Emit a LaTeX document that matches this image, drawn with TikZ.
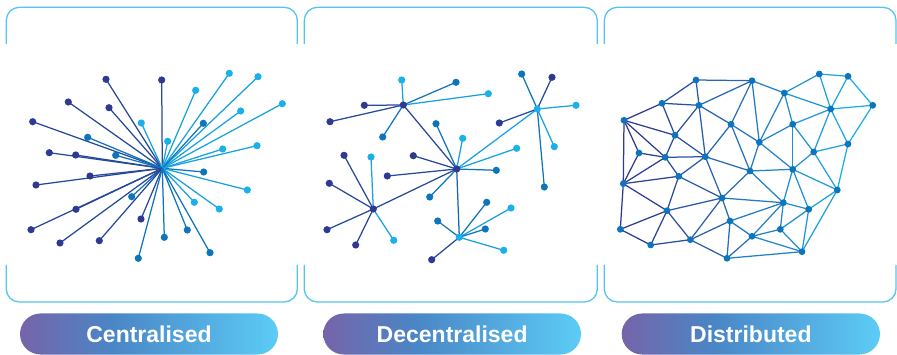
\documentclass[tikz,border=0pt]{standalone}
\usepackage{fontspec}
\setmainfont{Liberation Sans}
\definecolor{nv}{RGB}{46,58,146}
\definecolor{md}{RGB}{14,116,188}
\definecolor{lt}{RGB}{26,176,234}
\definecolor{fr}{RGB}{84,197,240}
\definecolor{pl}{RGB}{118,100,170}
\definecolor{pm}{RGB}{74,134,198}
\definecolor{pc}{RGB}{92,204,246}
\pgfdeclarehorizontalshading{pillshade}{100bp}{color(0bp)=(pl); color(25bp)=(pl); color(43bp)=(pm); color(75bp)=(pc); color(100bp)=(pc)}
\pgfdeclarelayer{bg}
\pgfsetlayers{bg,main}
\newdimen\mxA
\newdimen\mxB
\tikzset{
  leaf/.style={circle,fill=#1,inner sep=0pt,minimum size=7.2pt},
  knot/.style={circle,fill=md,inner sep=0pt,minimum size=6.8pt},
  link/.style={draw=#1,line width=1.25pt},
  frameline/.style={draw=fr,line width=1.3pt,rounded corners=13pt},
  pillbox/.style={shading=pillshade,rounded corners=20.5pt},
  pilltext/.style={text=white,font=\fontsize{23}{27}\selectfont\bfseries,inner sep=0pt}
}
\begin{document}
\begin{tikzpicture}[x=1pt,y=-1pt]
\useasboundingbox (0,0) rectangle (897,355);
% frames
\foreach \xa/\xb [count=\k] in {6.3/297.3, 304.3/597.3, 604.3/896}{
  \draw[frameline] (\xa,44) -- (\xa,7.3) -- (\xb,7.3) -- (\xb,44);
  \draw[frameline] (\xa,265) -- (\xa,302) -- (\xb,302) -- (\xb,265);
}
% pills
\foreach \xa/\xb/\t [count=\k] in {20/278/Centralised, 323.3/581/Decentralised, 621.7/880/Distributed}{
  \shade[pillbox] (\xa,313.5) rectangle (\xb,354.5);
  \node[pilltext] (lab\k) at ({(\xa+\xb)/2},334.2) {\t};
}
% ---- Centralised
\coordinate (c1) at (162.3,168.3);
\foreach \x/\y/\c [count=\i] in {106/79.3/nv, 161.7/80/nv, 229.3/73.3/lt, 258/76.7/lt, 195.7/90.3/lt,
  68.3/102/nv, 109/107.7/nv, 240.7/111/lt, 282.3/103.7/lt, 32.7/121.7/nv, 141.3/123/lt, 203.3/123.3/md,
  87.7/137.3/md, 167.7/141.3/lt, 49.3/152.7/nv, 75.7/155/nv, 115.7/155.3/md, 222.7/149/lt, 257/145.7/lt,
  203.7/172/md, 36/185/nv, 90/176/nv, 247.3/190/lt, 131.7/196.7/md, 194.3/202.3/lt, 219.3/209/lt,
  76/209.3/nv, 141/219/nv, 31/229.7/nv, 187.3/230/md, 60/243/nv, 99.3/240.7/nv, 164.3/237.3/md,
  138.3/258.3/md, 210/252.7/md}{
  \node[leaf=\c] (p\i) at (\x,\y) {};
  \begin{pgfonlayer}{bg}\draw[link=\c!75!md] (p\i.center) -- (c1);\end{pgfonlayer}
}
% ---- Decentralised
\node[leaf=nv] (h1) at (403.3,105) {};
\node[leaf=nv] (h2) at (456.7,169) {};
\node[leaf=lt] (h3) at (537.3,109) {};
\node[leaf=nv] (h4) at (373.3,209) {};
\node[leaf=lt] (h5) at (459.3,237.3) {};
\begin{pgfonlayer}{bg}
\draw[link=nv!75!md] (h1.center) -- (h2.center);
\draw[link=lt!80!md] (h2.center) -- (h3.center);
\draw[link=nv!75!md] (h2.center) -- (h4.center);
\draw[link=md!70!nv] (h2.center) -- (h5.center);
\end{pgfonlayer}
\foreach \h/\x/\y/\c [count=\i] in {
  h1/401.7/80/lt, h1/456/82.3/md, h1/488.3/93.7/lt, h1/364.3/105.3/nv, h1/330/121.7/nv, h1/382.7/137/md,
  h3/521.7/74/md, h3/552/77.3/nv, h3/576/105.3/lt, h3/499.3/123/nv, h3/554.3/146.7/lt, h3/544.3/187/md,
  h2/436/123.7/md, h2/462.7/138.3/lt, h2/413.3/155.7/nv, h2/516.7/148.3/lt, h2/496.3/170.3/md, h2/387.3/176/nv, h2/429.7/197/md,
  h4/344/155.3/nv, h4/371/157/lt, h4/329.3/183.3/nv, h4/327/229.7/nv, h4/355.7/245/nv, h4/393.7/240.3/lt,
  h5/486.7/202.3/md, h5/511/208/lt, h5/437.7/221/md, h5/485.3/229/md, h5/503.7/250.3/lt, h5/431.7/259.7/nv}{
  \node[leaf=\c] (e\i) at (\x,\y) {};
  \begin{pgfonlayer}{bg}\draw[link=\c!75!md] (e\i.center) -- (\h.center);\end{pgfonlayer}
}
% ---- Distributed
\foreach \n/\x/\y in {A/696/80, B/752/80.7, C/819.3/74, D/848/76.3, E/784.3/93, F/662/103.3, G/699/105.3,
  H/872.7/105.3, I/830.7/109, J/624/120.3, K/731/124.3, L/792.7/124.3, M/675/135.3, N/759.3/142.3,
  O/848/144, P/639/153, Q/665.3/157.3, R/705.3/156.7, S/813.7/152, T/750/171, U/792.7/169.3,
  V/678.7/176.3, W/623.3/183.7, X/837.3/190, Y/722/198, Z/783.3/202.7, a/808.7/209.3, b/667/210.7,
  c/730/221, d/780.3/229.3, e/620.3/229.3, f/752/236.3, g/690.3/239.7, h/650.7/245, i/802/251.7, j/727/258.3}{
  \node[knot] (q\n) at (\x,\y) {};
}
\foreach \a/\b in {A/B, A/F, A/G, F/G, F/J, F/M, G/B, G/M, G/K, G/R, B/K, B/N, B/E, E/C, C/D, C/I, D/I, D/H,
  E/I, E/N, E/L, I/H, I/L, I/S, I/O, H/O, L/N, L/U, L/S, O/S, O/X, S/U, S/X, J/M, J/P, J/Q, J/W, K/R, K/N, K/T,
  M/Q, M/R, N/T, N/U, P/Q, P/W, Q/R, Q/W, Q/V, R/V, R/T, R/Y, T/U, T/Y, T/Z, U/Z, U/X, U/a, X/a, X/i, V/W, V/b,
  V/Y, W/b, W/e, b/e, b/h, b/Y, b/g, e/h, h/g, g/Y, g/c, g/j, Y/c, Y/Z, c/Z, c/f, c/j, Z/f, Z/d, Z/a, a/d, a/i,
  d/f, d/i, f/i, f/j, j/i}{
  \pgfextractx{\mxA}{\pgfpointanchor{q\a}{center}}
  \pgfextractx{\mxB}{\pgfpointanchor{q\b}{center}}
  \pgfmathtruncatemacro\mix{max(0,min(100,((\mxA+\mxB)/2-640)/2.1))}
  \begin{pgfonlayer}{bg}\draw[link=lt!\mix!nv] (q\a.center) -- (q\b.center);\end{pgfonlayer}
}
\end{tikzpicture}
\end{document}
